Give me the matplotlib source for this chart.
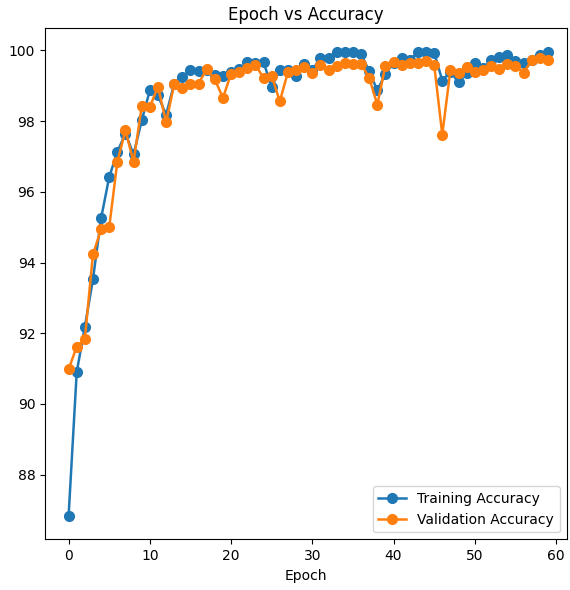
import matplotlib
matplotlib.use("Agg")
import matplotlib.pyplot as plt

# accuracy per epoch
epochs = list(range(60))
train_acc = [86.83, 90.90, 92.18, 93.53, 95.25, 96.42, 97.13, 97.65, 97.06, 98.02,
             98.87, 98.73, 98.18, 99.06, 99.25, 99.45, 99.41, 99.45, 99.30, 99.28,
             99.38, 99.47, 99.68, 99.66, 99.67, 98.96, 99.45, 99.45, 99.27, 99.62,
             99.45, 99.78, 99.78, 99.95, 99.95, 99.95, 99.90, 99.42, 98.87, 99.34,
             99.65, 99.80, 99.74, 99.95, 99.95, 99.94, 99.15, 99.40, 99.10, 99.36,
             99.65, 99.50, 99.72, 99.82, 99.86, 99.70, 99.65, 99.74, 99.87, 99.97]
val_acc = [90.98, 91.62, 91.84, 94.23, 94.94, 95.00, 96.85, 97.74, 96.85, 98.42,
           98.40, 98.98, 97.97, 99.04, 98.95, 99.06, 99.06, 99.48, 99.18, 98.66,
           99.34, 99.40, 99.50, 99.60, 99.22, 99.28, 98.56, 99.39, 99.45, 99.53,
           99.36, 99.60, 99.44, 99.55, 99.65, 99.63, 99.62, 99.23, 98.47, 99.57,
           99.68, 99.58, 99.66, 99.64, 99.70, 99.60, 97.62, 99.45, 99.35, 99.53,
           99.38, 99.44, 99.56, 99.48, 99.63, 99.57, 99.37, 99.72, 99.80, 99.73]

fig = plt.figure(figsize=(5.7, 5.9), dpi=100)
ax = fig.add_axes([0.079, 0.086, 0.915, 0.866])

ax.plot(epochs, train_acc, marker="o", markersize=7, linewidth=1.8, label="Training Accuracy")
ax.plot(epochs, val_acc, marker="o", markersize=7, linewidth=1.8, label="Validation Accuracy")

ax.set_xlim(-2.9, 61.3)
ax.set_title("Epoch vs Accuracy", fontsize=12)
ax.set_xlabel("Epoch", fontsize=10)
ax.legend(loc="lower right", fontsize=10)

fig.savefig("out.png", dpi=100)
